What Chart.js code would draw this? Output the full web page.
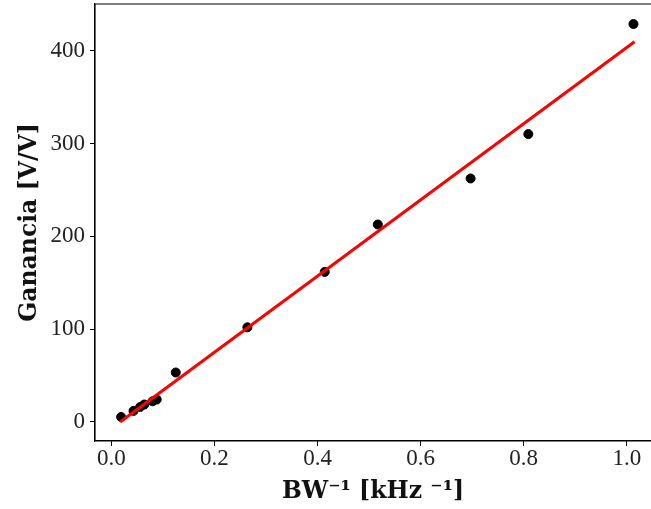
<!DOCTYPE html>
<html>
<head>
<meta charset="utf-8">
<script src="https://cdn.jsdelivr.net/npm/chart.js@4/dist/chart.umd.min.js"></script>
<style>
  html, body { margin: 0; padding: 0; background: #fff; overflow: hidden; }
</style>
</head>
<body>
<canvas id="c" width="651" height="509" style="display:block;width:651px;height:509px"></canvas>
<script>
const bwInverse = [0.019, 0.043, 0.056, 0.064, 0.080, 0.088, 0.125, 0.264, 0.414, 0.517, 0.697, 0.809, 1.013];
const gain      = [5.4, 11.9, 16.2, 18.8, 22.3, 24.2, 53.3, 102, 161.7, 212.8, 262.4, 310.2, 428.8];
// Fitted red line: end points
const fitX = [0.017, 1.015];
const fitY = [0.0, 409.7];
const xTicks = [0.0, 0.2, 0.4, 0.6, 0.8, 1.0];
const yTicks = [0, 100, 200, 300, 400];

const FONT = '"Liberation Serif", "DejaVu Serif", serif';
const TFONT = '"DejaVu Serif", "Liberation Serif", serif';

// Frame: top, left and bottom edges (the right edge lies outside the cropped picture)
const framePlugin = {
  id: 'frame',
  afterDatasetsDraw(chart) {
    const a = chart.chartArea, ctx = chart.ctx;
    ctx.save();
    ctx.strokeStyle = '#000';
    ctx.lineWidth = 1.1;
    ctx.beginPath();
    ctx.moveTo(a.right + 5, a.top);
    ctx.lineTo(a.left, a.top);
    ctx.lineTo(a.left, a.bottom);
    ctx.lineTo(a.right + 5, a.bottom);
    ctx.stroke();
    ctx.restore();
  }
};

new Chart(document.getElementById('c'), {
  type: 'scatter',
  data: {
    datasets: [
      {
        type: 'line',
        label: 'Ajuste',
        data: fitX.map((x, i) => ({ x, y: fitY[i] })),
        borderColor: '#ff0000',
        borderWidth: 3,
        pointRadius: 0,
        fill: false,
        order: 0
      },
      {
        label: 'Medición',
        data: bwInverse.map((x, i) => ({ x, y: gain[i] })),
        backgroundColor: '#000',
        borderColor: '#000',
        pointRadius: 4.5,
        pointHoverRadius: 4.5,
        order: 1
      }
    ]
  },
  options: {
    responsive: false,
    animation: false,
    devicePixelRatio: 1,
    layout: { autoPadding: false, padding: { left: 0, right: 0, top: 4, bottom: 0 } },
    plugins: { legend: { display: false }, tooltip: { enabled: false } },
    scales: {
      x: {
        type: 'linear',
        min: -0.0317,
        max: 1.047,
        afterBuildTicks(scale) { scale.ticks = xTicks.map(v => ({ value: v })); },
        afterFit(scale) { scale.height = 68; scale.paddingLeft = 0; scale.paddingRight = 0; },
        ticks: {
          color: '#222',
          font: { family: FONT, size: 23 },
          padding: -1,
          callback: v => Number(v).toFixed(1)
        },
        grid: { display: true, drawOnChartArea: false, drawTicks: true, tickLength: 5, tickColor: '#000', tickWidth: 1 },
        border: { display: true, color: '#000', width: 1.1 },
        title: {
          display: true,
          text: 'BW⁻¹ [kHz ⁻¹]',
          color: '#111',
          font: { family: TFONT, size: 23.5, weight: 'bold' },
          padding: { top: 0, bottom: 3 }
        }
      },
      y: {
        type: 'linear',
        min: -20.5,
        max: 450.4,
        afterBuildTicks(scale) { scale.ticks = yTicks.map(v => ({ value: v })); },
        afterFit(scale) { scale.width = 95; scale.paddingTop = 0; scale.paddingBottom = 0; },
        ticks: {
          color: '#222',
          font: { family: FONT, size: 23 },
          padding: 5
        },
        grid: { display: true, drawOnChartArea: false, drawTicks: true, tickLength: 5, tickColor: '#000', tickWidth: 1 },
        border: { display: true, color: '#000', width: 1.1 },
        title: {
          display: true,
          text: 'Ganancia [V/V]',
          color: '#111',
          font: { family: TFONT, size: 23.5, weight: 'bold' },
          padding: { top: 16, bottom: 0 }
        }
      }
    }
  },
  plugins: [framePlugin]
});
</script>
</body>
</html>
